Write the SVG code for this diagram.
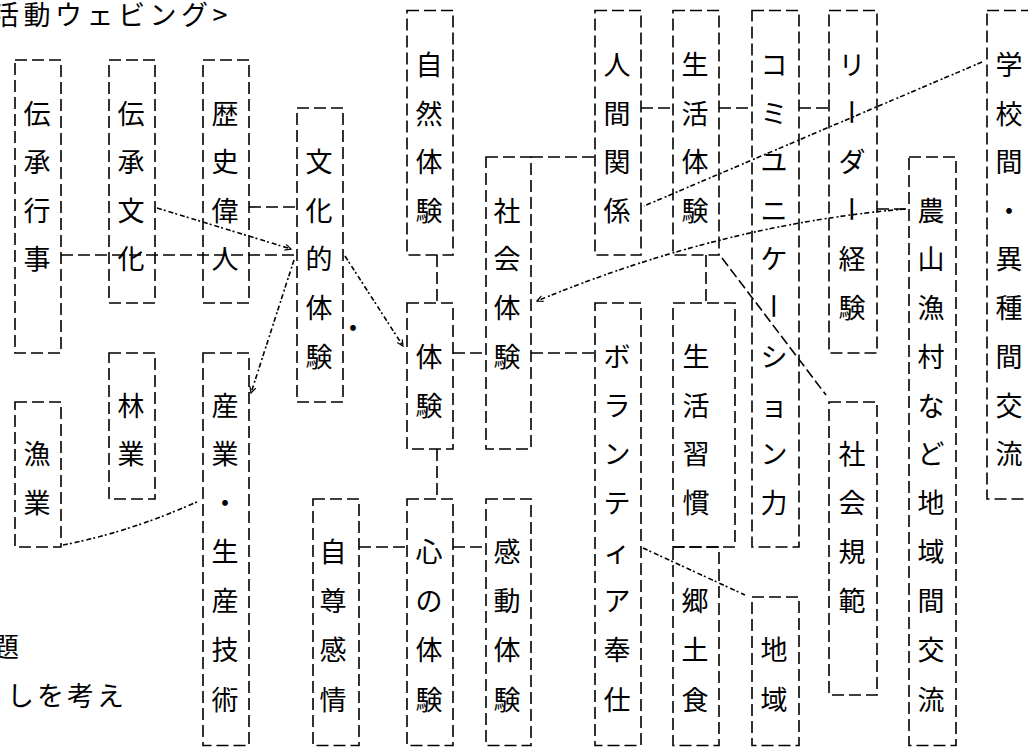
<svg xmlns="http://www.w3.org/2000/svg" width="1028" height="747" viewBox="0 0 1028 747">
<defs>
<style>
.b{fill:none;stroke:#000;stroke-width:1.6;stroke-dasharray:12 5}
.c{fill:none;stroke:#000;stroke-width:1.6;stroke-dasharray:12 5}
.w{fill:none;stroke:#000;stroke-width:1.6;stroke-dasharray:5 2 2 3}
.g{fill:none;stroke:#000;stroke-width:1.6;stroke-dasharray:10 4}
.t{font-family:"Noto Sans CJK JP","Noto Sans CJK SC",sans-serif;font-size:27px;text-anchor:middle;dominant-baseline:central;fill:#000}
.h{font-family:"Noto Sans CJK JP","Noto Sans CJK SC",sans-serif;font-size:27px;letter-spacing:4px;dominant-baseline:central;fill:#000}
</style>
<marker id="ah" markerWidth="8" markerHeight="8" refX="7" refY="4" orient="auto" markerUnits="userSpaceOnUse">
<path d="M1,1 L7,4 L1,7" fill="none" stroke="#000" stroke-width="1.2"/>
</marker>
</defs>
<rect width="1028" height="747" fill="#fff"/>

<text class="h" x="-8" y="13" style="letter-spacing:4.5px">活動ウェビング&gt;</text>
<text class="h" x="-8" y="645">題</text>
<text class="h" x="7" y="694" style="letter-spacing:3px">しを考え</text>
<text class="t" x="353" y="326">・</text>

<g id="connectors">
<line class="c" x1="61" y1="255" x2="297" y2="255"/>
<line class="c" x1="249" y1="207" x2="297" y2="207"/>
<line class="c" x1="437" y1="255" x2="437" y2="303"/>
<line class="c" x1="437" y1="449" x2="437" y2="499"/>
<line class="c" x1="453" y1="353" x2="486" y2="353"/>
<line class="c" x1="531" y1="353" x2="595" y2="353"/>
<line class="c" x1="531" y1="157" x2="595" y2="157"/>
<line class="c" x1="641" y1="108" x2="673" y2="108"/>
<line class="c" x1="719" y1="108" x2="752" y2="108"/>
<line class="c" x1="799" y1="108" x2="829" y2="108"/>
<line class="c" x1="706" y1="255" x2="706" y2="303"/>
<line class="c" x1="359" y1="547" x2="407" y2="547"/>
<line class="c" x1="453" y1="547" x2="486" y2="547"/>
<line class="c" x1="877" y1="209" x2="909" y2="209"/>
<path class="w" d="M157,208 L291,249" marker-end="url(#ah)"/>
<path class="w" d="M294,260 L251,393" marker-end="url(#ah)"/>
<path class="w" d="M63,545 Q130,532 199,501"/>
<path class="w" d="M345,256 L403,346" marker-end="url(#ah)"/>
<path class="w" d="M905,209 Q720,225 537,301" marker-end="url(#ah)"/>
<path class="w" d="M982,62 L644,206"/>
<path class="g" d="M722,258 L826,395"/>
<path class="w" d="M643,548 L745,595"/>
</g>

<g id="n1"><rect class="b" x="15" y="60" width="46" height="293"/>
<text class="t"><tspan x="37" y="112">伝</tspan><tspan x="37" y="160">承</tspan><tspan x="37" y="209">行</tspan><tspan x="37" y="257">事</tspan></text></g>
<g id="n2"><rect class="b" x="109" y="60" width="46" height="243"/>
<text class="t"><tspan x="131" y="112">伝</tspan><tspan x="131" y="160">承</tspan><tspan x="131" y="209">文</tspan><tspan x="131" y="257">化</tspan></text></g>
<g id="n3"><rect class="b" x="203" y="60" width="46" height="243"/>
<text class="t"><tspan x="225" y="112">歴</tspan><tspan x="225" y="160">史</tspan><tspan x="225" y="209">偉</tspan><tspan x="225" y="257">人</tspan></text></g>
<g id="n4"><rect class="b" x="297" y="108" width="46" height="294"/>
<text class="t"><tspan x="319" y="160">文</tspan><tspan x="319" y="209">化</tspan><tspan x="319" y="257">的</tspan><tspan x="319" y="306">体</tspan><tspan x="319" y="355">験</tspan></text></g>
<g id="n5"><rect class="b" x="15" y="402" width="46" height="145"/>
<text class="t"><tspan x="37" y="452">漁</tspan><tspan x="37" y="501">業</tspan></text></g>
<g id="n6"><rect class="b" x="109" y="353" width="46" height="146"/>
<text class="t"><tspan x="131" y="404">林</tspan><tspan x="131" y="452">業</tspan></text></g>
<g id="n7"><rect class="b" x="203" y="353" width="46" height="392.5"/>
<text class="t"><tspan x="225" y="404">産</tspan><tspan x="225" y="452">業</tspan><tspan x="225" y="501">・</tspan><tspan x="225" y="550">生</tspan><tspan x="225" y="599">産</tspan><tspan x="225" y="648">技</tspan><tspan x="225" y="698">術</tspan></text></g>
<g id="n8"><rect class="b" x="313" y="499" width="46" height="246.5"/>
<text class="t"><tspan x="333" y="550">自</tspan><tspan x="333" y="599">尊</tspan><tspan x="333" y="648">感</tspan><tspan x="333" y="698">情</tspan></text></g>
<g id="n9"><rect class="b" x="407" y="10.5" width="46" height="244.5"/>
<text class="t"><tspan x="429" y="63">自</tspan><tspan x="429" y="112">然</tspan><tspan x="429" y="160">体</tspan><tspan x="429" y="209">験</tspan></text></g>
<g id="n10"><rect class="b" x="407" y="303" width="46" height="146"/>
<text class="t"><tspan x="429" y="355">体</tspan><tspan x="429" y="404">験</tspan></text></g>
<g id="n11"><rect class="b" x="407" y="499" width="46" height="246.5"/>
<text class="t"><tspan x="429" y="550">心</tspan><tspan x="429" y="599">の</tspan><tspan x="429" y="648">体</tspan><tspan x="429" y="698">験</tspan></text></g>
<g id="n12"><rect class="b" x="486" y="157" width="45" height="292"/>
<text class="t"><tspan x="507" y="209">社</tspan><tspan x="507" y="257">会</tspan><tspan x="507" y="306">体</tspan><tspan x="507" y="355">験</tspan></text></g>
<g id="n13"><rect class="b" x="486" y="499" width="45" height="246.5"/>
<text class="t"><tspan x="507" y="550">感</tspan><tspan x="507" y="599">動</tspan><tspan x="507" y="648">体</tspan><tspan x="507" y="698">験</tspan></text></g>
<g id="n14"><rect class="b" x="595" y="10.5" width="46" height="244.5"/>
<text class="t"><tspan x="617" y="63">人</tspan><tspan x="617" y="112">間</tspan><tspan x="617" y="160">関</tspan><tspan x="617" y="209">係</tspan></text></g>
<g id="n15"><rect class="b" x="595" y="303" width="46" height="442.5"/>
<text class="t"><tspan x="617" y="355">ボ</tspan><tspan x="617" y="404">ラ</tspan><tspan x="617" y="452">ン</tspan><tspan x="617" y="501">テ</tspan><tspan x="617" y="550">ィ</tspan><tspan x="617" y="599">ア</tspan><tspan x="617" y="648">奉</tspan><tspan x="617" y="698">仕</tspan></text></g>
<g id="n16"><rect class="b" x="673" y="10.5" width="46" height="244.5"/>
<text class="t"><tspan x="695" y="63">生</tspan><tspan x="695" y="112">活</tspan><tspan x="695" y="160">体</tspan><tspan x="695" y="209">験</tspan></text></g>
<g id="n17"><rect class="b" x="673" y="303" width="62" height="244"/>
<text class="t"><tspan x="696" y="355">生</tspan><tspan x="696" y="404">活</tspan><tspan x="696" y="452">習</tspan><tspan x="696" y="501">慣</tspan></text></g>
<g id="n18"><rect class="b" x="673" y="547" width="46" height="198.5"/>
<text class="t"><tspan x="695" y="599">郷</tspan><tspan x="695" y="648">土</tspan><tspan x="695" y="698">食</tspan></text></g>
<g id="n19"><rect class="b" x="752" y="10.5" width="47" height="536.5"/>
<text class="t"><tspan x="774" y="63">コ</tspan><tspan x="774" y="112">ミ</tspan><tspan x="774" y="160">ユ</tspan><tspan x="774" y="209">ニ</tspan><tspan x="774" y="257">ケ</tspan><tspan x="774" y="355">シ</tspan><tspan x="774" y="404">ョ</tspan><tspan x="774" y="452">ン</tspan><tspan x="774" y="501">力</tspan></text>
<text class="t" x="774" y="306" transform="rotate(90 774 306)">ー</text></g>
<g id="n20"><rect class="b" x="752" y="597" width="47" height="148.5"/>
<text class="t"><tspan x="774" y="648">地</tspan><tspan x="774" y="698">域</tspan></text></g>
<g id="n21"><rect class="b" x="829" y="10.5" width="48" height="342.5"/>
<text class="t"><tspan x="852" y="63">リ</tspan><tspan x="852" y="160">ダ</tspan><tspan x="852" y="257">経</tspan><tspan x="852" y="306">験</tspan></text>
<text class="t" x="852" y="112" transform="rotate(90 852 112)">ー</text>
<text class="t" x="852" y="209" transform="rotate(90 852 209)">ー</text></g>
<g id="n22"><rect class="b" x="829" y="402" width="48" height="293"/>
<text class="t"><tspan x="852" y="452">社</tspan><tspan x="852" y="501">会</tspan><tspan x="852" y="550">規</tspan><tspan x="852" y="599">範</tspan></text></g>
<g id="n23"><rect class="b" x="909" y="157" width="47" height="588.5"/>
<text class="t"><tspan x="931" y="209">農</tspan><tspan x="931" y="257">山</tspan><tspan x="931" y="306">漁</tspan><tspan x="931" y="355">村</tspan><tspan x="931" y="404">な</tspan><tspan x="931" y="452">ど</tspan><tspan x="931" y="501">地</tspan><tspan x="931" y="550">域</tspan><tspan x="931" y="599">間</tspan><tspan x="931" y="648">交</tspan><tspan x="931" y="698">流</tspan></text></g>
<g id="n24"><rect class="b" x="987" y="10.5" width="46" height="488.5"/>
<text class="t"><tspan x="1009" y="63">学</tspan><tspan x="1009" y="112">校</tspan><tspan x="1009" y="160">間</tspan><tspan x="1009" y="209">・</tspan><tspan x="1009" y="257">異</tspan><tspan x="1009" y="306">種</tspan><tspan x="1009" y="355">間</tspan><tspan x="1009" y="404">交</tspan><tspan x="1009" y="452">流</tspan></text></g>
</svg>
